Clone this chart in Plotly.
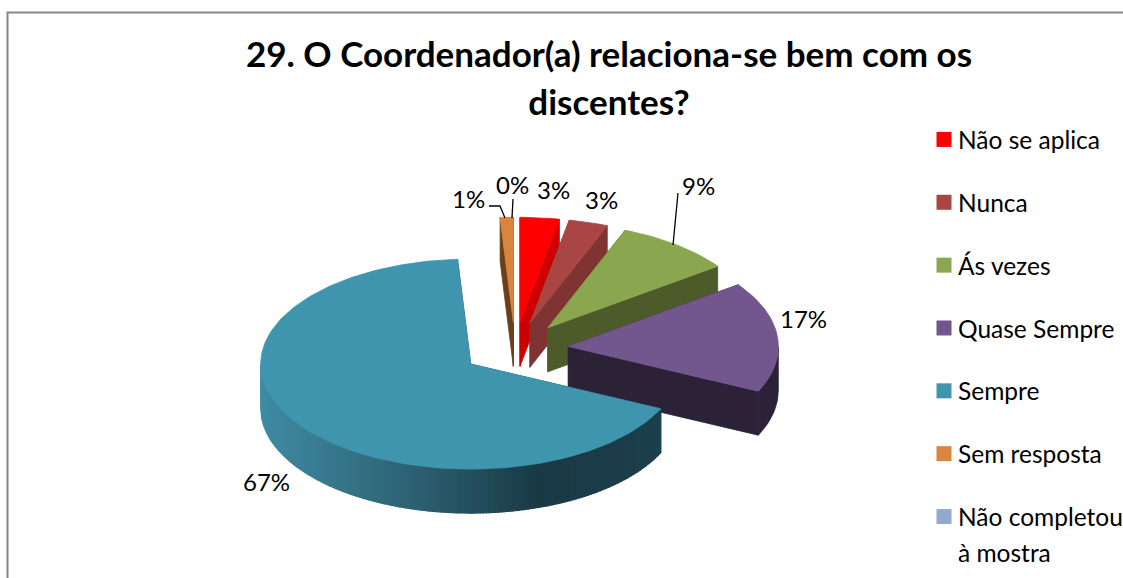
import math
import plotly.graph_objects as go

# ---- data ----
categories = ["Não se aplica", "Nunca", "Ás vezes", "Quase Sempre", "Sempre", "Sem resposta", "Não completou à mostra"]
legend_names = ["Não se aplica", "Nunca", "Ás vezes", "Quase Sempre", "Sempre", "Sem resposta", "Não completou"]
legend_second_line = "à mostra"
values = [3, 3, 9, 17, 67, 1, 0]
percent_labels = ["3%", "3%", "9%", "17%", "67%", "1%", "0%"]

# ---- styles ----
top_colors = ["#ff0000", "#a94644", "#8aa64e", "#72578e", "#4095ae", "#db843d", "#93a9cf"]
wall_colors = ["#cc0000", "#7f3433", "#4d5a2a", "#2c2238", "#1b3d49", "#6b3f1c", "#6b7fa0"]
FONT = "Lato, 'Open Sans', sans-serif"

# ---- pie geometry (pixel space of the hidden axes) ----
CX, CY = 515, 349
RX, RY = 210, 105
DEPTH = 44
EXPLODE = 0.255
label_xy = [(553, 189), (601, 199), (698, 185), (803, 318), (266, 481), (468, 198), (512, 184)]

def rim(a, ax, ay, dz=0):
    t = math.radians(a)
    return ax + RX * math.sin(t), ay - RY * math.cos(t) + dz

def arc(a0, a1, ax, ay, dz=0, step=1.5):
    n = max(2, int(abs(a1 - a0) / step) + 1)
    return [rim(a0 + (a1 - a0) * i / (n - 1), ax, ay, dz) for i in range(n)]

def lerp_hex(c0, c1, t):
    a = [int(c0[i:i + 2], 16) for i in (1, 3, 5)]
    b = [int(c1[i:i + 2], 16) for i in (1, 3, 5)]
    return "#%02x%02x%02x" % tuple(round(a[i] + (b[i] - a[i]) * t) for i in range(3))

def gradient(x):
    stops = [(260, "#3f8ba3"), (330, "#37788d"), (430, "#2a5c6c"), (537, "#1a3a46"), (665, "#1c404c")]
    for (x0, c0), (x1, c1) in zip(stops, stops[1:]):
        if x <= x1:
            return lerp_hex(c0, c1, max(0, (x - x0) / (x1 - x0)))
    return stops[-1][1]

fig = go.Figure()

def poly(pts, color, width=0.8):
    xs = [p[0] for p in pts] + [pts[0][0]]
    ys = [p[1] for p in pts] + [pts[0][1]]
    fig.add_trace(go.Scatter(x=xs, y=ys, mode="lines", fill="toself", fillcolor=color,
                             line=dict(color=color, width=width), showlegend=False, hoverinfo="skip"))

total = sum(values)
spans = []
acc = 0
for v in values:
    spans.append((acc / total * 360, (acc + v) / total * 360))
    acc += v

# back-to-front painting order
order = [5, 0, 1, 2, 3, 4]
for i in order:
    a0, a1 = spans[i]
    mid = math.radians((a0 + a1) / 2)
    ax = CX + EXPLODE * RX * math.sin(mid)
    ay = CY - EXPLODE * RY * math.cos(mid)
    wall = wall_colors[i]
    # radial faces
    for a in (a0, a1):
        r = rim(a, ax, ay)
        poly([(ax, ay), r, (r[0], r[1] + DEPTH), (ax, ay + DEPTH)], wall)
    # outer face (front half only)
    w0, w1 = max(a0, 90), min(a1, 270)
    if w1 > w0:
        if i == 4:
            # slices of equal screen width so the shading runs smoothly left to right
            x_right = rim(w0, ax, ay)[0]
            x_left = ax - RX
            steps = int((x_right - x_left) / 3)
            def ang(x):
                return 180 - math.degrees(math.asin(max(-1, min(1, (x - ax) / RX))))
            for k in range(steps):
                xa = x_right - (x_right - x_left) * k / steps
                xb = x_right - (x_right - x_left) * (k + 1) / steps
                s0, s1 = ang(xa), ang(xb)
                top = arc(s0, s1, ax, ay, step=1)
                bot = arc(s1, s0, ax, ay, DEPTH, step=1)
                poly(top + bot, gradient((xa + xb) / 2), width=1.2)
        else:
            poly(arc(w0, w1, ax, ay) + arc(w1, w0, ax, ay, DEPTH), wall)
    # top face
    poly([(ax, ay)] + arc(a0, a1, ax, ay), top_colors[i])

# legend entries
for name, color in zip(legend_names, top_colors):
    fig.add_trace(go.Scatter(x=[None], y=[None], mode="markers", name=name, legendgroup=name,
                             marker=dict(symbol="square", size=15, color=color)))

annotations = [dict(x=x, y=y, xref="x", yref="y", text=t, showarrow=False,
                    font=dict(family=FONT, size=24, color="#000000"))
               for t, (x, y) in zip(percent_labels, label_xy)]
annotations.append(dict(x=956, y=552, xref="x", yref="y", xanchor="left", text=legend_second_line,
                        showarrow=False, font=dict(family=FONT, size=24.5, color="#000000")))

shapes = [
    dict(type="path", path="M 7.5 578 L 7.5 12.5 L 1123 12.5", xref="x", yref="y",
         line=dict(color="#868686", width=2)),
    dict(type="path", path="M 489 206 L 500 206 L 505 218", xref="x", yref="y", line=dict(color="#000", width=1.3)),
    dict(type="path", path="M 513 199 L 512 218", xref="x", yref="y", line=dict(color="#000", width=1.3)),
    dict(type="path", path="M 678 193 L 673 245", xref="x", yref="y", line=dict(color="#000", width=1.3)),
]

title_text = ('<span style="font-size:35px"><b>29. O Coordenador(a) relaciona-se bem com os</b></span><br>'
              '<span style="font-size:35px"><b>discentes?</b></span>')

fig.update_layout(
    width=1123, height=578,
    margin=dict(l=0, r=0, t=0, b=0, autoexpand=False),
    paper_bgcolor="white", plot_bgcolor="white",
    xaxis=dict(range=[0, 1123], visible=False, fixedrange=True),
    yaxis=dict(range=[578, 0], visible=False, fixedrange=True),
    title=dict(text=title_text, x=609 / 1123, xanchor="center", y=1 - 67 / 578, yanchor="middle",
               font=dict(family=FONT, size=37, color="#000000")),
    legend=dict(x=918 / 1123, xanchor="left", y=1 - 117 / 578, yanchor="top",
                font=dict(family=FONT, size=24.5, color="#000000"),
                tracegroupgap=28, itemwidth=30, bgcolor="rgba(0,0,0,0)"),
    annotations=annotations,
    shapes=shapes,
)

# the swatches sit closer to their text than Plotly's fixed item width allows
post = ("document.body.style.margin='0';document.body.style.overflow='hidden';"
        "document.querySelectorAll('.legend .legendsymbols').forEach(function(e){"
        "e.setAttribute('transform','translate(6,0)');});")
fig.write_html("out.html", config=dict(displayModeBar=False), post_script=post)
